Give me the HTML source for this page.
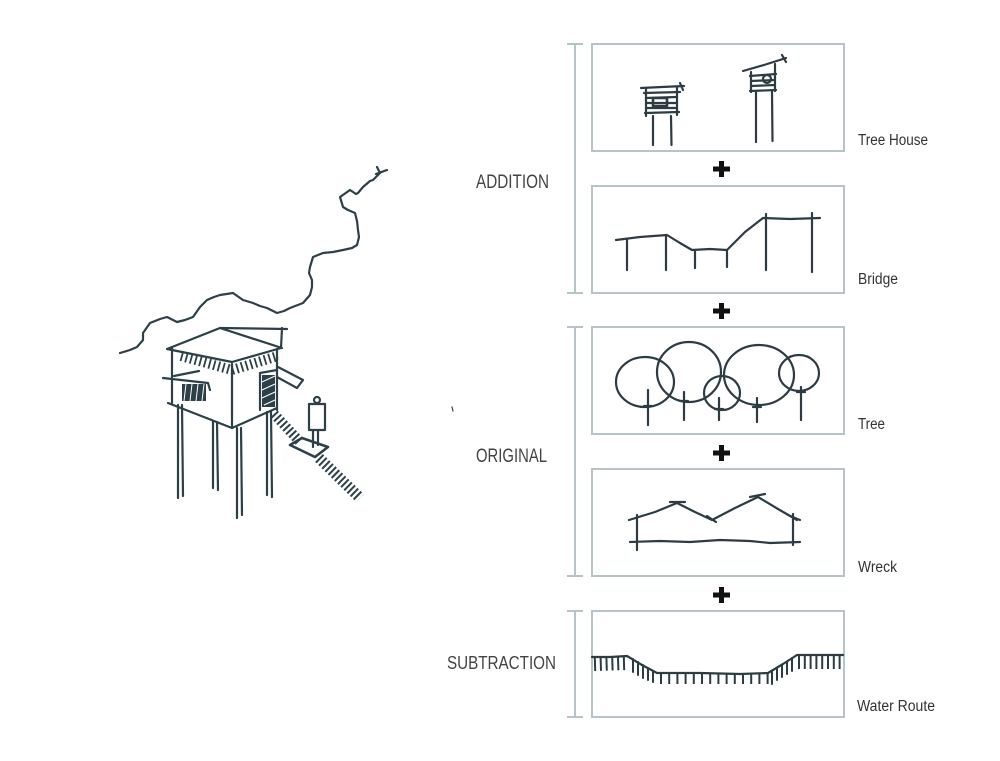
<!DOCTYPE html>
<html><head><meta charset="utf-8"><style>
html,body{margin:0;padding:0;background:#fff;}
svg{display:block;}
</style></head><body>
<svg width="1000" height="761" viewBox="0 0 1000 761" xmlns="http://www.w3.org/2000/svg">
<rect width="1000" height="761" fill="#fff"/>
<!-- boxes -->
<g fill="none" stroke="#b6c4c7" stroke-width="2">
<rect x="592" y="44" width="252" height="107"/>
<rect x="592" y="186" width="252" height="107"/>
<rect x="592" y="327" width="252" height="107"/>
<rect x="592" y="469" width="252" height="107"/>
<rect x="592" y="611" width="252" height="106"/>
<!-- brackets -->
<path d="M575 44 L575 293 M567 44 L583 44 M567 293 L583 293"/>
<path d="M575 327 L575 576 M567 327 L583 327 M567 576 L583 576"/>
<path d="M575 611 L575 717 M567 611 L583 611 M567 717 L583 717"/>
</g>
<!-- plus signs -->
<g fill="#111">
<path d="M719 161 h5 v5.5 h6 v5 h-6 v5.5 h-5 v-5.5 h-6 v-5 h6 z"/>
<path d="M719 303 h5 v5.5 h6 v5 h-6 v5.5 h-5 v-5.5 h-6 v-5 h6 z"/>
<path d="M719 445 h5 v5.5 h6 v5 h-6 v5.5 h-5 v-5.5 h-6 v-5 h6 z"/>
<path d="M719 587 h5 v5.5 h6 v5 h-6 v5.5 h-5 v-5.5 h-6 v-5 h6 z"/>
</g>
<!-- labels -->
<g font-family="Liberation Sans, sans-serif" fill="#444">
<text x="476" y="188" font-size="19.5" textLength="73" lengthAdjust="spacingAndGlyphs">ADDITION</text>
<text x="476" y="462" font-size="19.5" textLength="71" lengthAdjust="spacingAndGlyphs">ORIGINAL</text>
<text x="447" y="669" font-size="18.5" textLength="109" lengthAdjust="spacingAndGlyphs">SUBTRACTION</text>
</g>
<g font-family="Liberation Sans, sans-serif" fill="#333" font-size="15.5">
<text x="858" y="145" textLength="70" lengthAdjust="spacingAndGlyphs">Tree House</text>
<text x="858" y="284" textLength="40" lengthAdjust="spacingAndGlyphs">Bridge</text>
<text x="858" y="429" textLength="27" lengthAdjust="spacingAndGlyphs">Tree</text>
<text x="858" y="572" textLength="39" lengthAdjust="spacingAndGlyphs">Wreck</text>
<text x="857" y="711" textLength="78" lengthAdjust="spacingAndGlyphs">Water Route</text>
</g>

<g fill="none" stroke="#2c3c42" stroke-width="2.2" stroke-linecap="round" stroke-linejoin="round">
<!-- tree houses -->
<path d="M641 88 L662 87 L684 86 M680 83 L683 90"/>
<path d="M646 88 L646 116 M677 87 L677 115"/>
<path d="M644 93 L680 92 M646 98 L677 97 M646 103 L677 103 M646 108 L677 108 M645 113 L679 112"/>
<rect x="653" y="98" width="14" height="8" stroke-width="2.6"/>
<path d="M653 116 L653 145 M671 116 L671.5 145"/>
<path d="M743 71 L764 65 L786 58 M782 55 L786 62"/>
<path d="M751 72 L751 92 M775 64 L775 91"/>
<path d="M750 76 L776 74 M751 81 L775 80 M751 86 L775 85 M750 91 L776 90"/>
<circle cx="767" cy="79" r="4"/>
<path d="M756 92 L756 142 M772 92 L772.5 141"/>
<!-- bridge -->
<path d="M616 240 L640 237 L667 235 L680 243 L692 250 L710 249 L727 250 L745 232 L763 218 L790 219 L820 218"/>
<path d="M627 240 L627 270 M666 235 L666 270 M695 250 L695 268 M727 250 L727 267 M766 214 L766 270 M812 213 L812 272"/>
<!-- trees -->
<ellipse cx="645" cy="382" rx="29" ry="25"/>
<ellipse cx="689" cy="372" rx="32" ry="30"/>
<ellipse cx="722" cy="393" rx="18" ry="17"/>
<ellipse cx="759" cy="375" rx="35" ry="30"/>
<ellipse cx="799" cy="373" rx="20" ry="18"/>
<path d="M648 390 L648 425 M684 392 L684 420 M719 398 L719 420 M757 398 L757 422 M801 387 L801 420"/>
<path d="M644 406 L652 406 M680 401 L688 401 M715 409 L723 409 M753 407 L761 407 M797 392 L805 392"/>
<!-- wreck -->
<path d="M629 520 L655 512 L677 503 L695 512 L712 520 L735 508 L758 497 L778 509 L797 520"/>
<path d="M670 502 L685 502 M707 516 L716 522 M750 497 L765 494 M790 516 L800 520"/>
<path d="M637 515 L637 550 M793 514 L793 545"/>
<path d="M630 542 L660 541 L690 542 L720 540 L750 541 L770 543 L800 542"/>
<!-- water route -->
<path d="M592 657 L610 657 L627 656 L642 665 L657 673 L700 673 L740 674 L768 673 L783 664 L797 655 L820 655 L843 655"/>
</g>
<g fill="none" stroke="#2c3c42" stroke-width="14" stroke-dasharray="2 3.8">
<path d="M594 664 L628 663"/>
<path d="M798 662 L844 662"/>
</g>
<g fill="none" stroke="#2c3c42" stroke-width="10" stroke-dasharray="2 6.2">
<path d="M660 679 L770 679"/>
</g>
<g fill="none" stroke="#2c3c42" stroke-width="2" stroke-linecap="round">
<path d="M633 659 L633 672 M638 662 L638 675 M643 665 L643 678 M648 668 L648 680 M653 671 L653 682"/>
<path d="M772 671 L772 684 M777 668 L777 680 M782 665 L782 677 M787 662 L787 674 M792 658 L792 671"/>
</g>

<!-- main sketch -->
<g fill="none" stroke="#2e4047" stroke-width="2.2" stroke-linecap="round" stroke-linejoin="round">
<path d="M120 353 L130 350 L137 347 L143 340 L143 333 L150 323 L160 319 L167 317 L177 322 L185 320 L193 317 L200 307 L207 300 L214 297 L220 295 L233 293 L243 300 L253 303 L260 306 L267 308 L277 313 L284 311 L290 308 L303 303 L310 295 L312 287 L312 280 L309 273 L310 267 L313 257 L323 253 L333 252 L343 250 L352 248 L357 245 L359 237 L358 230 L357 221 L355 213 L348 210 L343 207 L340 197 L350 190 L356 194 L358 193 L363 187 L370 181 L373 180 L380 173 L377 167 M376 174 L387 170"/>
<!-- roof -->
<path d="M167 349 L220 328 L287 329 M282 328 L281 348 M220 328 L282 348 M167 349 L232 362 L281 348"/>
<path d="M172 348 L172 403 M232 364 L232 428 M277 349 L277 410"/>
<path d="M168 403 L232 428 L277 408"/>
<path d="M163 378 L208 383 L210 390 M174 376 L199 371"/>
<path d="M260 373 L260 410 M260 373 L277 370"/>
<path d="M278 367 L303 380 L297 388 L277 377"/>
<path d="M178 405 L178 498 M182 405 L183 496 M213 422 L213 488 M217 422 L218 490 M237 428 L237 518 M241 428 L242 515 M267 412 L267 495 M271 412 L272 497"/>
<!-- person -->
<circle cx="317" cy="400" r="3"/>
<path d="M309 404 L325 404 L325 430 L309 430 Z M313 430 L313 447 M318 430 L318 445"/>
<path d="M290 445 L302 438 L328 447 L315 457 Z" stroke-width="2.6"/>
<path d="M452 407 L453 411" stroke-width="1.2"/>
</g>
<!-- hatching / dark fills -->
<rect x="182" y="384" width="24" height="17" fill="#2e4047"/>
<rect x="262" y="375" width="13" height="32" fill="#2e4047"/>
<g fill="none" stroke="#fff" stroke-width="1">
<path d="M186 384 L184 401 M192 384 L190 401 M198 384 L196 401 M204 384 L202 401"/>
<path d="M262 382 L275 376 M262 390 L275 384 M262 398 L275 392 M264 405 L275 400"/>
</g>
<g fill="none" stroke="#2e4047">
<path d="M181 356 L232 370" stroke-width="10" stroke-dasharray="1.8 3"/>
<path d="M232 370 L278 356" stroke-width="10" stroke-dasharray="1.8 3"/>
<path d="M274 414 L301 443" stroke-width="10" stroke-dasharray="2 2.4"/>
<path d="M319 458 L360 498" stroke-width="11" stroke-dasharray="2 2.4"/>
</g>
</svg>
</body></html>
